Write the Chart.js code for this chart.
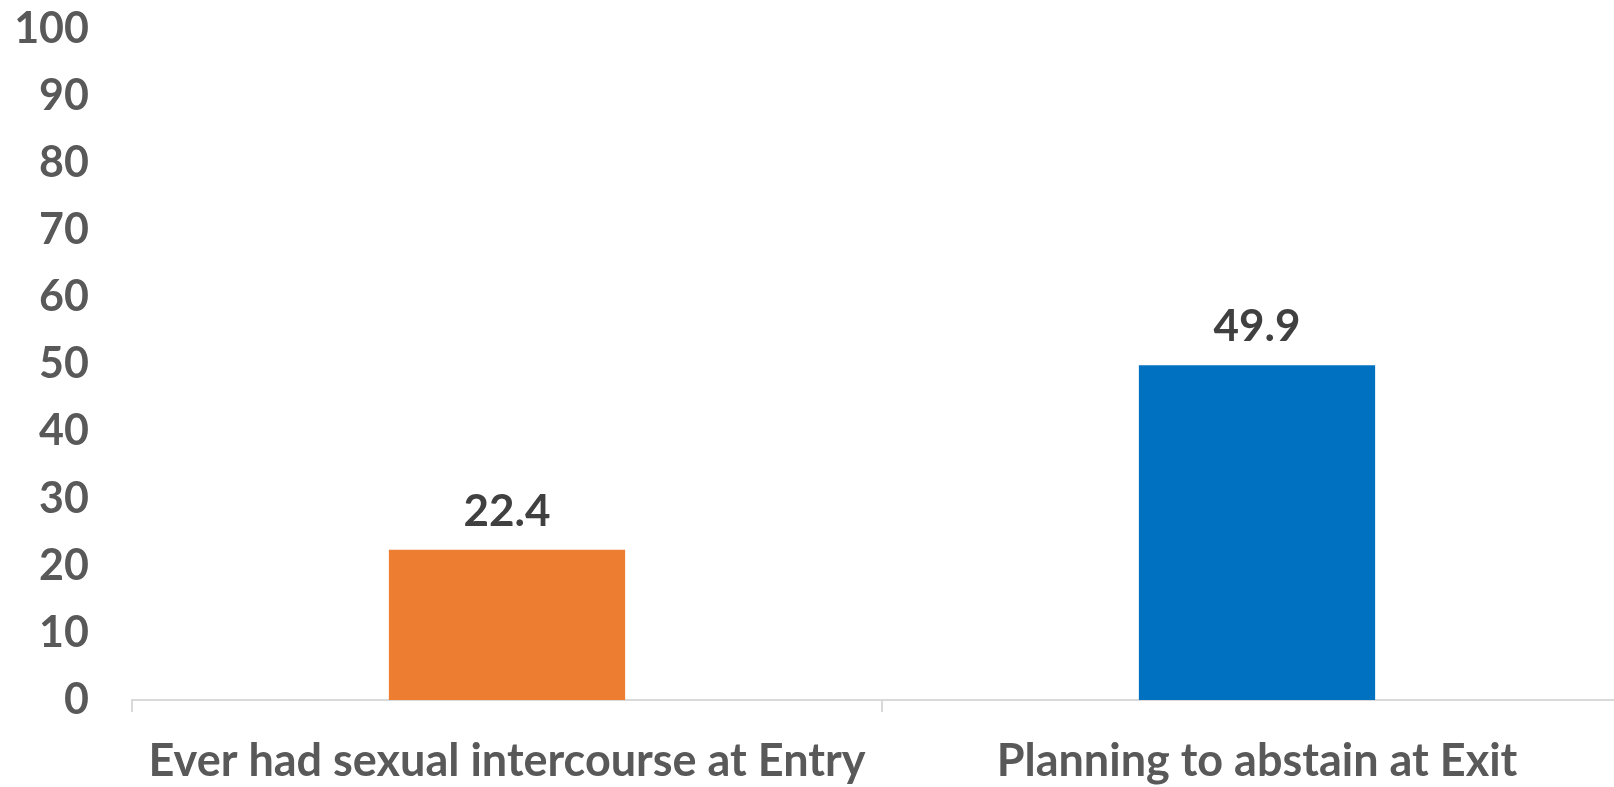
<!DOCTYPE html>
<html>
<head>
  <title>Abstinence Chart</title>
  <script src="https://cdn.jsdelivr.net/npm/chart.js"></script>
  <style>
    body { margin: 0; background: #fff; overflow: hidden; }
  </style>
</head>
<body>
  <canvas id="barChart" width="1632" height="787"></canvas>

  <script>
    const categories = ['Ever had sexual intercourse at Entry', 'Planning to abstain at Exit'];
    const values = [22.4, 49.9];
    const barColors = ['#ED7D31', '#0070C0'];
    const yTicks = [0, 10, 20, 30, 40, 50, 60, 70, 80, 90, 100];

    const FONT = 'Lato, "Open Sans", sans-serif';

    // draws the number above each bar
    const valueLabels = {
      id: 'valueLabels',
      afterDatasetsDraw(chart) {
        const ctx = chart.ctx;
        const meta = chart.getDatasetMeta(0);
        ctx.save();
        ctx.font = 'bold 44px ' + FONT;
        ctx.fillStyle = '#404040';
        ctx.textAlign = 'center';
        ctx.textBaseline = 'alphabetic';
        meta.data.forEach((bar, i) => {
          ctx.fillText(values[i].toFixed(1), bar.x, bar.y - 24);
        });
        ctx.restore();
      }
    };

    new Chart(document.getElementById('barChart').getContext('2d'), {
      type: 'bar',
      data: {
        labels: categories,
        datasets: [{
          data: values,
          backgroundColor: barColors,
          borderWidth: 0,
          categoryPercentage: 1,
          barPercentage: 0.315
        }]
      },
      options: {
        responsive: false,
        animation: false,
        layout: { padding: { top: 29, right: 0, left: 0, bottom: 0 } },
        plugins: {
          legend: { display: false },
          tooltip: { enabled: false }
        },
        scales: {
          x: {
            grid: {
              display: true,
              drawOnChartArea: false,
              drawTicks: true,
              tickLength: 12,
              color: '#D9D9D9',
              lineWidth: 2
            },
            border: { display: true, color: '#D9D9D9', width: 2 },
            ticks: {
              color: '#595959',
              font: { family: FONT, size: 45, weight: 'bold' },
              padding: 22,
              maxRotation: 0,
              autoSkip: false
            },
            afterFit(scale) {
              scale.height = 87;
              scale.paddingLeft = 0;
              scale.paddingRight = 0;
            }
          },
          y: {
            min: 0,
            max: 100,
            grid: { display: false },
            border: { display: false },
            afterBuildTicks(scale) {
              scale.ticks = yTicks.map(v => ({ value: v }));
            },
            ticks: {
              color: '#595959',
              font: { family: FONT, size: 43, weight: 'bold' },
              padding: 35
            },
            afterFit(scale) {
              scale.width = 132;
              scale.paddingTop = 0;
              scale.paddingBottom = 0;
            }
          }
        }
      },
      plugins: [valueLabels]
    });
  </script>
</body>
</html>
